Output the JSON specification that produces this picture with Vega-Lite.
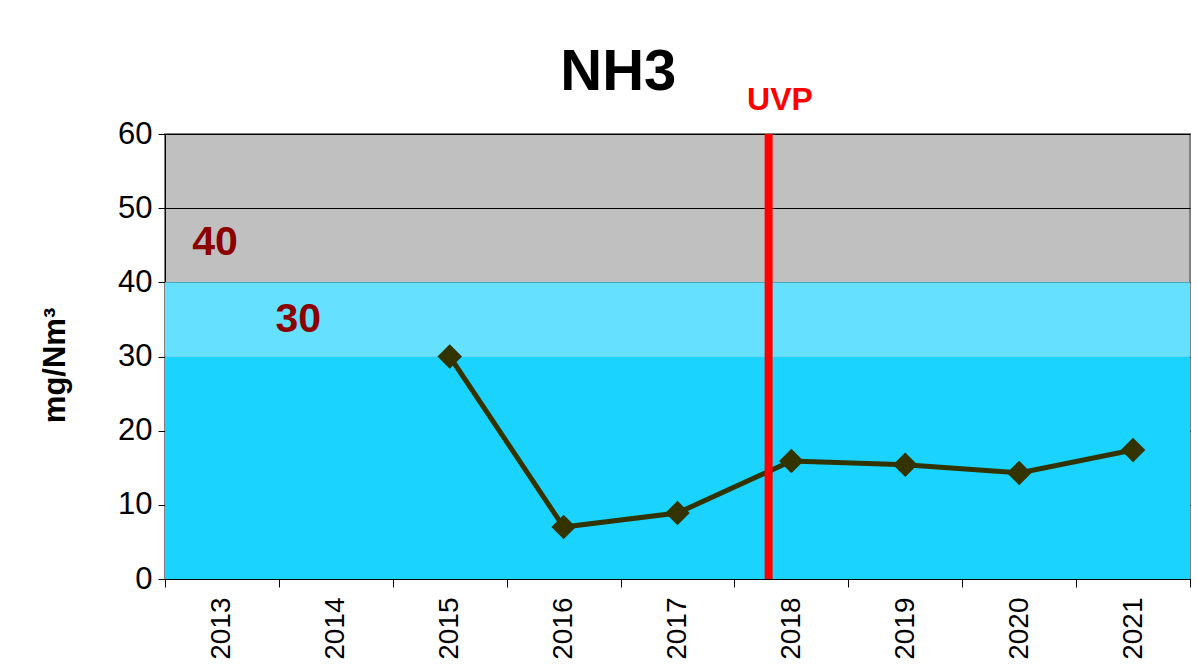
{
  "$schema": "https://vega.github.io/schema/vega-lite/v6.json",
  "width": 1025,
  "height": 445,
  "autosize": "none",
  "padding": {"left": 165, "top": 134, "right": 8, "bottom": 87},
  "background": "white",
  "config": {
    "font": "Liberation Sans",
    "view": {"fill": "#C0C0C0", "stroke": "#808080", "strokeWidth": 2}
  },
  "datasets": {
    "bands": [
      {"lo": 0, "hi": 30, "zone": "a"},
      {"lo": 30, "hi": 40, "zone": "b"}
    ],
    "series": [
      {"year": "2015", "value": 30},
      {"year": "2016", "value": 7},
      {"year": "2017", "value": 8.9},
      {"year": "2018", "value": 15.9},
      {"year": "2019", "value": 15.4},
      {"year": "2020", "value": 14.3},
      {"year": "2021", "value": 17.4}
    ]
  },
  "encoding": {
    "x": {
      "field": "year",
      "type": "ordinal",
      "scale": {
        "domain": ["2013", "2014", "2015", "2016", "2017", "2018", "2019", "2020", "2021"],
        "paddingInner": 0,
        "paddingOuter": 0
      },
      "axis": {
        "title": null,
        "labelAngle": 270,
        "labelFontSize": 28,
        "labelColor": "black",
        "labelPadding": 10,
        "tickBand": "extent",
        "tickSize": 8,
        "tickColor": "black",
        "domainColor": "black",
        "grid": false
      }
    }
  },
  "layer": [
    {
      "data": {"name": "bands"},
      "mark": {"type": "rect"},
      "encoding": {
        "x": null,
        "y": {
          "field": "lo",
          "type": "quantitative",
          "scale": {"domain": [0, 60], "nice": false, "zero": true},
          "axis": {
            "values": [0, 10, 20, 30, 40, 50, 60],
            "title": "mg/Nm³",
            "titleFontSize": 31,
            "titleFontWeight": "bold",
            "titleColor": "black",
            "titlePadding": 46,
            "titleY": 231,
            "labelFontSize": 31,
            "labelColor": "black",
            "labelPadding": 6,
            "tickSize": 7,
            "tickColor": "black",
            "domainColor": "black",
            "grid": true,
            "gridColor": "black",
            "gridWidth": 1,
            "gridOpacity": 1
          }
        },
        "y2": {"field": "hi"},
        "color": {
          "field": "zone",
          "type": "nominal",
          "scale": {"domain": ["a", "b"], "range": ["#1AD3FF", "#66E0FF"]},
          "legend": null
        }
      }
    },
    {
      "data": {"values": [{"year": "2013", "val": 45.3, "txt": "40"}]},
      "mark": {"type": "text", "fontSize": 41, "fontWeight": "bold", "color": "#8B0000", "baseline": "middle", "align": "center"},
      "encoding": {
        "x": {"field": "year", "type": "ordinal", "bandPosition": 0.44},
        "y": {"field": "val", "type": "quantitative"},
        "text": {"field": "txt"}
      }
    },
    {
      "data": {"values": [{"year": "2014", "val": 34.9, "txt": "30"}]},
      "mark": {"type": "text", "fontSize": 41, "fontWeight": "bold", "color": "#8B0000", "baseline": "middle", "align": "center"},
      "encoding": {
        "x": {"field": "year", "type": "ordinal", "bandPosition": 0.17},
        "y": {"field": "val", "type": "quantitative"},
        "text": {"field": "txt"}
      }
    },
    {
      "data": {"name": "series"},
      "mark": {"type": "line", "color": "#333300", "strokeWidth": 5},
      "encoding": {
        "y": {"field": "value", "type": "quantitative"}
      }
    },
    {
      "data": {"name": "series"},
      "mark": {"type": "point", "shape": "diamond", "size": 600, "filled": true, "color": "#333300", "opacity": 1},
      "encoding": {
        "y": {"field": "value", "type": "quantitative"}
      }
    },
    {
      "data": {"values": [{"year": "2018", "lo": 0, "hi": 60}]},
      "mark": {"type": "rule", "color": "#FF0000", "strokeWidth": 8},
      "encoding": {
        "x": {"field": "year", "type": "ordinal", "bandPosition": 0.3},
        "y": {"field": "lo", "type": "quantitative"},
        "y2": {"field": "hi"}
      }
    },
    {
      "data": {"values": [{"year": "2018", "pos": 60, "txt": "UVP"}]},
      "mark": {"type": "text", "fontSize": 32, "fontWeight": "bold", "color": "#FF0000", "baseline": "alphabetic", "align": "center", "dy": -24},
      "encoding": {
        "x": {"field": "year", "type": "ordinal", "bandPosition": 0.4},
        "y": {"field": "pos", "type": "quantitative"},
        "text": {"field": "txt"}
      }
    },
    {
      "data": {"values": [{"year": "2016", "pos": 60, "txt": "NH3"}]},
      "mark": {"type": "text", "fontSize": 58, "fontWeight": "bold", "color": "black", "baseline": "alphabetic", "align": "center", "dy": -44},
      "encoding": {
        "x": {"field": "year", "type": "ordinal", "bandPosition": 0.98},
        "y": {"field": "pos", "type": "quantitative"},
        "text": {"field": "txt"}
      }
    }
  ]
}
